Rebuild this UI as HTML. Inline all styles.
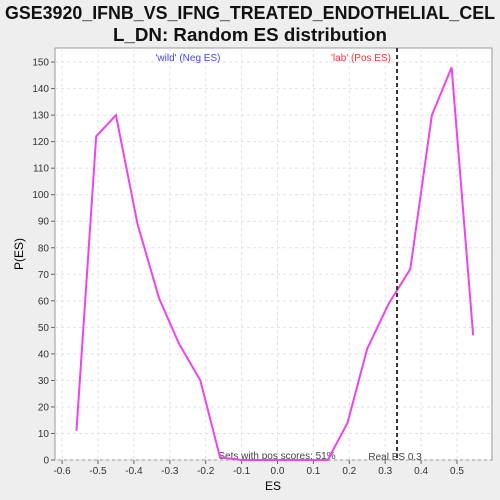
<!DOCTYPE html>
<html><head><meta charset="utf-8"><style>
body{margin:0;background:#eeeeee;}
svg{display:block;font-family:"Liberation Sans",sans-serif;}
</style></head><body>
<svg id="c" width="500" height="500">
<text x="250" y="19" text-anchor="middle" font-size="18" font-weight="bold" fill="#111" textLength="490" lengthAdjust="spacingAndGlyphs">GSE3920_IFNB_VS_IFNG_TREATED_ENDOTHELIAL_CEL</text>
<text x="250" y="41" text-anchor="middle" font-size="18" font-weight="bold" fill="#111" textLength="274" lengthAdjust="spacingAndGlyphs">L_DN: Random ES distribution</text>
<rect x="55" y="48" width="437" height="412" fill="#fff" stroke="#999"/>
<g id="grid"></g><g id="ticks"></g>
<text x="273" y="490" text-anchor="middle" font-size="12">ES</text>
<text transform="translate(23,254) rotate(-90)" text-anchor="middle" font-size="12">P(ES)</text>
<text x="188" y="61" text-anchor="middle" font-size="10" fill="#4444ff">'wild' (Neg ES)</text>
<text x="361" y="61" text-anchor="middle" font-size="10" fill="#ff3333">'lab' (Pos ES)</text>
<text x="277" y="459" text-anchor="middle" font-size="10" fill="#444">Sets with pos scores: 51%</text>
<g id="marks"></g>
</svg>
<script>
const esValues=[-0.56,-0.505,-0.45,-0.39,-0.33,-0.275,-0.215,-0.16,-0.1,0.14,0.195,0.25,0.31,0.37,0.43,0.485,0.545];
const pValues=[11,122,130,89,61,44,30,1,0,0,14,42,59,72,130,148,47];
const xTicks=[-0.6,-0.5,-0.4,-0.3,-0.2,-0.1,0.0,0.1,0.2,0.3,0.4,0.5];
const yTicks=[0,10,20,30,40,50,60,70,80,90,100,110,120,130,140,150];
const realES=0.333;
const realLabel="Real ES 0.3";
const NS="http://www.w3.org/2000/svg";
const sx=v=>277.5+v*359, sy=v=>460-v*2.653;
function mk(t,a,p){const e=document.createElementNS(NS,t);for(const k in a)e.setAttribute(k,a[k]);p.appendChild(e);return e;}
const g=document.getElementById('grid'),tk=document.getElementById('ticks'),m=document.getElementById('marks');
xTicks.forEach(v=>{const x=sx(v);
 const l=mk('line',{x1:x,x2:x,y1:48,y2:460,stroke:'#e2e2e2','stroke-dasharray':'3,3'},g);
 
 
 mk('line',{x1:x,x2:x,y1:460,y2:464,stroke:'#666'},tk);
 const t=mk('text',{x:x,y:474,'text-anchor':'middle','font-size':'10',fill:'#333'},tk);t.textContent=v.toFixed(1);
 
 });
yTicks.forEach(v=>{const y=sy(v);
 const l=mk('line',{x1:55,x2:492,y1:y,y2:y,stroke:'#e2e2e2','stroke-dasharray':'3,3'},g);
 
 
 mk('line',{x1:51,x2:55,y1:y,y2:y,stroke:'#666'},tk);
 const t=mk('text',{x:49,y:y+3.5,'text-anchor':'end','font-size':'10',fill:'#333'},tk);t.textContent=v;
 
 });
const pl=mk('polyline',{points:esValues.map((v,i)=>sx(v)+','+sy(pValues[i])).join(' '),fill:'none',stroke:'#ee44ee','stroke-width':2},m);


const rl=mk('line',{x1:sx(realES),x2:sx(realES),y1:48,y2:460,stroke:'#333','stroke-width':2,'stroke-dasharray':'4,3'},m);


const rt=mk('text',{x:sx(realES)-2,y:460,'text-anchor':'middle','font-size':'10',fill:'#444'},m);rt.textContent=realLabel;


</script>
</body></html>
